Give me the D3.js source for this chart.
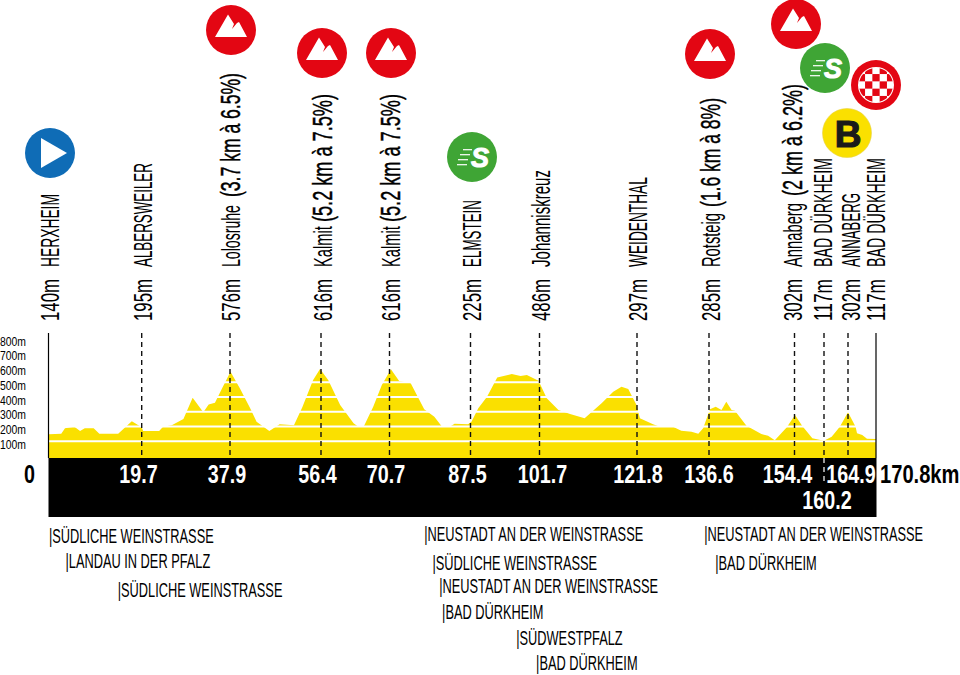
<!DOCTYPE html>
<html><head><meta charset="utf-8">
<script src="https://cdn.jsdelivr.net/npm/d3@7/dist/d3.min.js"></script>
<style>
html,body{margin:0;padding:0;background:#fff}
svg{display:block}
text{font-family:"Liberation Sans Narrow","Liberation Sans",sans-serif}
</style></head><body><div id="c"></div>
<script>
// ---------- data ----------
const profileKm = [0,2.6,3.4,5.4,6.6,7.6,9.5,10.7,14.7,17.6,19.7,20,23.3,24.1,25.9,28.3,30.2,32.4,33.5,34.8,36.2,38,39.9,42,43.3,45.9,48,50.9,52.6,54.8,56.2,57.9,60.4,63.2,64.2,65.3,67.3,69.1,71,72.7,75.1,77.9,80,81.6,83.2,84.2,87,87.7,89.1,90.9,93,96,97.8,99.1,101.5,103.2,105.6,108,111,114.5,116.9,118.6,120,121.7,122.4,125.1,126.5,129.2,130.9,133,134.4,135.4,136.8,138,139.2,140.2,141.3,142,144.4,147.5,148.9,150.3,152.8,154.5,155.9,157.9,160.2,161.7,163.3,164.9,166.5,166.8,167.9,168.9,170.8];
const profileEle = [147,151,188,199,170,188,188,151,151,235,195,170,170,199,208,251,395,296,350,361,454,572,459,323,233,170,215,208,330,515,590,515,346,222,199,199,334,481,588,508,493,317,266,199,199,219,215,233,323,402,533,556,542,549,510,391,312,285,256,357,436,470,454,346,256,215,199,199,172,165,151,188,317,334,312,368,312,307,205,149,138,106,195,278,205,120,104,131,199,296,199,154,142,117,115];
const yTicks = [100,200,300,400,500,600,700,800];
const wpKm   = [0,19.7,37.9,56.4,70.7,87.5,101.7,121.8,136.6,154.4,160.2,164.9];
const wpKmLabels = ["0","19.7","37.9","56.4","70.7","87.5","101.7","121.8","136.6","154.4","160.2","164.9"];
const placeEle  = ["140m","195m","576m","616m","616m","225m","486m","297m","285m","302m","117m","302m","117m"];
const placeName = ["HERXHEIM","ALBERSWEILER","Lolosruhe","Kalmit","Kalmit","ELMSTEIN","Johanniskreuz","WEIDENTHAL","Rotsteig","Annaberg","BAD DÜRKHEIM","ANNABERG","BAD DÜRKHEIM"];
const placeNote = ["","","(3.7 km à 6.5%)","(5.2 km à 7.5%)","(5.2 km à 7.5%)","","","","(1.6 km à 8%)","(2 km à 6.2%)","","",""];
const totalLabel = "170.8km";
const regionNames = ["SÜDLICHE WEINSTRASSE","LANDAU IN DER PFALZ","SÜDLICHE WEINSTRASSE","NEUSTADT AN DER WEINSTRASSE","SÜDLICHE WEINSTRASSE","NEUSTADT AN DER WEINSTRASSE","BAD DÜRKHEIM","SÜDWESTPFALZ","BAD DÜRKHEIM","NEUSTADT AN DER WEINSTRASSE","BAD DÜRKHEIM"];
const regionKm    = [0,3.5,14.6,77.9,79.6,81,81.6,96.9,101,135.6,137.9];

// ---------- layout ----------
const W=960,H=675;
const regionY=[543,568,597,541,570,593,619,645,670,541,570];
const placeBaseX=[59,151.5,240,331.5,400,481,549.5,647,720,802,832,860,885];
const nameLen=[73,104,62,41,41,67,97,90,54,64,109,74,109];
const noteStart=[0,0,197,222,222,0,0,0,207,196,0,0,0];
const noteLen=[0,0,124,128,128,0,0,0,109,112,0,0,0];
const kmLabelX=[29.5,138.5,227,317.5,386,467.5,542.5,638,709,787.5,827,851];
const icons=[["start",50,153],["kom",231,30],["kom",322,53],["kom",391,53],["sprint",472,157],["kom",710,54],["kom",796,24],["sprint",825,68],["finish",876,85],["bonus",847,133]];
const xS=d3.scaleLinear()
  .domain([0,19.7,37.9,56.4,70.7,87.5,101.7,121.8,136.6,154.4,160.2,164.9,170.8])
  .range([49,141.7,230,321,389.5,470.5,539.5,637,709,794.5,824,848,876]);
const yS=d3.scaleLinear().domain([0,800]).range([456,338]);
const base=458, blackBottom=517, frameTop=333;
const RED="#e30613",GREEN="#3fa535",BLUE="#0f6cb6",YEL="#fae000";

const svg=d3.select("#c").append("svg").attr("width",W).attr("height",H);

// profile
const area=d3.area().x((d,i)=>xS(profileKm[i])).y0(base).y1(d=>yS(d));
svg.append("path").attr("d",area(profileEle)).attr("fill",YEL);
svg.selectAll(".g").data(yTicks).join("line")
  .attr("x1",49).attr("x2",876).attr("y1",d=>yS(d)).attr("y2",d=>yS(d))
  .attr("stroke","#fff").attr("stroke-width",2);

// black band and frame
svg.append("rect").attr("x",48.5).attr("y",base).attr("width",828).attr("height",blackBottom-base).attr("fill","#000");
svg.append("line").attr("x1",48.5).attr("x2",48.5).attr("y1",frameTop).attr("y2",base).attr("stroke","#000").attr("stroke-width",1.2);
svg.append("line").attr("x1",876).attr("x2",876).attr("y1",frameTop).attr("y2",base).attr("stroke","#000").attr("stroke-width",1.2);

// dashed drops
svg.selectAll(".d").data(wpKm.slice(1)).join("line")
  .attr("x1",d=>xS(d)).attr("x2",d=>xS(d)).attr("y1",frameTop).attr("y2",base)
  .attr("stroke","#111").attr("stroke-width",1.4).attr("stroke-dasharray","5,4");
svg.append("line").attr("x1",xS(160.2)).attr("x2",xS(160.2)).attr("y1",base).attr("y2",484)
  .attr("stroke","#fff").attr("stroke-width",1.2).attr("stroke-dasharray","5,4");

// squeezed text helper (o.fit = target length in px)
function label(g,px,py,txt,o={}){
  const t=g.append("text")
    .attr("text-anchor",o.anchor||"start")
    .attr("font-size",o.size).attr("font-weight",o.bold?"bold":"normal")
    .attr("fill",o.fill||"#000").text(txt);
  const sx=o.fit?o.fit/t.node().getComputedTextLength():(o.sx||1);
  t.attr("transform",`translate(${px},${py})${o.rot?" rotate(-90)":""} scale(${sx},1)`);
  if(o.stroke) t.attr("stroke",o.fill||"#000").attr("stroke-width",o.stroke);
  return t;
}

// y tick labels
yTicks.forEach(v=>label(svg,0,yS(v)+7.5,v+"m",{size:13,sx:.8}));

// km labels
wpKm.forEach((k,i)=>{
  if(i===0){label(svg,kmLabelX[i],483,wpKmLabels[i],{size:25,sx:.79,bold:true,anchor:"middle"});return;}
  const two=wpKmLabels[i]==="160.2";
  label(svg,kmLabelX[i],two?509:483,wpKmLabels[i],{size:25,sx:.79,bold:true,anchor:"middle",fill:"#fff"});
});
label(svg,880,483,totalLabel,{size:25,sx:.805,bold:true});

// rotated place labels
placeName.forEach((n,i)=>{
  const px=placeBaseX[i];
  label(svg,px,321,placeEle[i],{size:26,fit:42,rot:true});
  label(svg,px,267,n,{size:26,fit:nameLen[i],rot:true});
  if(placeNote[i]) label(svg,px,noteStart[i],placeNote[i],{size:27,fit:noteLen[i],rot:true,stroke:.45});
});

// region labels
regionNames.forEach((n,i)=>{
  label(svg,xS(regionKm[i]),regionY[i],"|"+n,{size:21,sx:.61});
});

// icons
const mountain="-16,7 -3,-15.5 3,-6 1,-1 6,-7 8,-8 16,7";
let cid=0;
icons.forEach(([type,cx,cy])=>{
  const g=svg.append("g").attr("transform",`translate(${cx},${cy})`);
  if(type==="start"){
    g.append("circle").attr("r",25).attr("fill",BLUE);
    g.append("polygon").attr("points","-9,-15 17,0 -9,15").attr("fill","#fff");
  } else if(type==="kom"){
    g.append("circle").attr("r",25).attr("fill",RED);
    g.append("polygon").attr("points",mountain).attr("fill","#fff");
  } else if(type==="sprint"){
    g.append("circle").attr("r",25).attr("fill",GREEN);
    [[-9,-7.3,9],[-12,-2.3,10],[-14,2.7,10],[-15,7.7,10]].forEach(([a,b,l])=>g.append("line")
      .attr("x1",a).attr("x2",a+l).attr("y1",b).attr("y2",b).attr("stroke","#fff").attr("stroke-width",1.2));
    g.append("text").attr("x",8).attr("y",9.5).attr("text-anchor","middle")
      .attr("font-size",27).attr("font-weight","bold").attr("font-style","italic")
      .style("font-family","'Liberation Sans'").attr("fill","#fff").attr("stroke","#fff").attr("stroke-width",1).text("S");
  } else if(type==="finish"){
    g.append("circle").attr("r",25).attr("fill",RED);
    g.append("circle").attr("r",18).attr("fill","#fff");
    const id="cp"+(cid++);
    g.append("clipPath").attr("id",id).append("circle").attr("r",17);
    const cells=g.append("g").attr("clip-path",`url(#${id})`);
    const s=7.3;
    d3.range(-3,4).forEach(r=>d3.range(-3,4).forEach(c=>{
      if((r+c+6)%2===1) cells.append("rect").attr("x",c*s-s/2).attr("y",r*s-s/2).attr("width",s).attr("height",s).attr("fill",RED);
    }));
  } else {
    g.append("circle").attr("r",24.5).attr("fill",YEL).attr("stroke","#e8d24a").attr("stroke-width",.6);
    g.append("text").attr("x",1).attr("y",13.5).attr("text-anchor","middle").attr("font-size",37).attr("font-weight","bold")
      .style("font-family","'Liberation Sans'").attr("fill","#1a1a1a").attr("stroke","#1a1a1a").attr("stroke-width",1.2).text("B");
  }
});
</script></body></html>
